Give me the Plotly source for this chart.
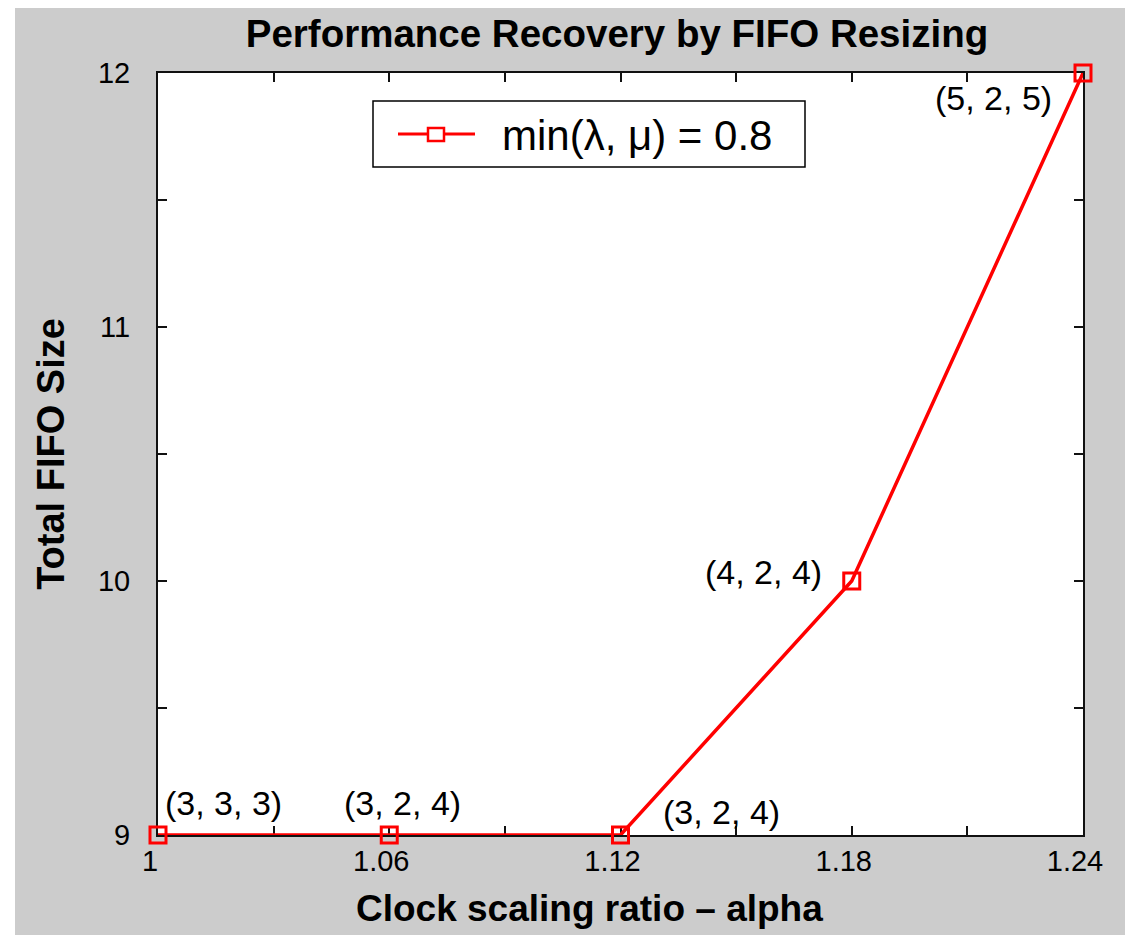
import plotly.graph_objects as go

# Clock scaling ratio (alpha) and resulting total FIFO size
alpha = [1.00, 1.06, 1.12, 1.18, 1.24]
fifo_size = [9, 9, 9, 10, 12]
fifo_config = ["(3, 3, 3)", "(3, 2, 4)", "(3, 2, 4)", "(4, 2, 4)", "(5, 2, 5)"]
series_name = "min(λ, μ) = 0.8"

x_tickvals = [1.00, 1.06, 1.12, 1.18, 1.24]
x_ticktext = ["1", "1.06", "1.12", "1.18", "1.24"]
y_tickvals = [9, 10, 11, 12]
y_ticktext = ["9", "10", "11", "12"]

# pixel offsets of each configuration label from its point
label_offsets = [(65, -32), (13, -32), (101, -23), (-88, -9), (-90, 25)]

W, H = 1125, 935
L, R, T, B = 158, 42, 73, 100
PW, PH = W - L - R, H - T - B
GRAY = "#cccccc"
RED = "#ff0000"
FONT = "Liberation Sans, Arial, Helvetica, sans-serif"


def px_x(p):
    return (p - L) / PW


def px_y(p):
    return (H - B - p) / PH


fig = go.Figure()
fig.add_trace(go.Scatter(
    x=alpha, y=fifo_size, mode="lines+markers", name=series_name,
    line=dict(color=RED, width=3.5),
    marker=dict(symbol="square-open", size=16, color=RED, line=dict(width=3, color=RED)),
    cliponaxis=False, showlegend=False,
))

for xv, yv, txt, (dx, dy) in zip(alpha, fifo_size, fifo_config, label_offsets):
    fig.add_annotation(x=xv, y=yv, text=txt, showarrow=False, xshift=dx, yshift=-dy,
                       xanchor="center", yanchor="middle",
                       font=dict(family=FONT, size=34, color="black"))

shapes = [
    # thin white margin on the top and left of the gray panel
    dict(type="rect", xref="paper", yref="paper", layer="below",
         x0=px_x(-5), x1=px_x(15), y0=px_y(H + 5), y1=px_y(-5),
         fillcolor="white", line=dict(width=0)),
    dict(type="rect", xref="paper", yref="paper", layer="below",
         x0=px_x(-5), x1=px_x(W + 5), y0=px_y(8), y1=px_y(-5),
         fillcolor="white", line=dict(width=0)),
    # legend box
    dict(type="rect", xref="paper", yref="paper",
         x0=px_x(373), x1=px_x(805), y0=px_y(167), y1=px_y(101),
         fillcolor="white", line=dict(color="black", width=1.5)),
    dict(type="line", xref="paper", yref="paper",
         x0=px_x(398), x1=px_x(475), y0=px_y(134), y1=px_y(134),
         line=dict(color=RED, width=3)),
    dict(type="rect", xref="paper", yref="paper",
         x0=px_x(428), x1=px_x(444), y0=px_y(141), y1=px_y(128),
         fillcolor="white", line=dict(color=RED, width=2.5)),
]
fig.add_annotation(xref="paper", yref="paper", x=px_x(500), y=px_y(136), text=series_name,
                   showarrow=False, xanchor="left", yanchor="middle",
                   font=dict(family=FONT, size=42, color="black"))

# x-axis title
fig.add_annotation(xref="paper", yref="paper", x=px_x(589), y=px_y(909),
                   text="<b>Clock scaling ratio – alpha</b>", showarrow=False,
                   xanchor="center", yanchor="middle",
                   font=dict(family=FONT, size=37, color="black"))

axis_common = dict(
    showline=True, linecolor="#111111", linewidth=2, mirror="ticks",
    ticks="inside", ticklen=9, tickwidth=1.5, tickcolor="#111111",
    showgrid=False, zeroline=False, layer="below traces",
    tickfont=dict(family=FONT, size=29, color="black"),
)

fig.update_layout(
    width=W, height=H,
    margin=dict(l=L, r=R, t=T, b=B, autoexpand=False),
    paper_bgcolor=GRAY, plot_bgcolor="white",
    shapes=shapes,
    title=dict(text="<b>Performance Recovery by FIFO Resizing</b>",
               xref="container", yref="container", x=617 / W, y=1 - 34 / H,
               xanchor="center", yanchor="middle",
               font=dict(family=FONT, size=38.5, color="black")),
    xaxis=dict(range=[1.0, 1.24], tickvals=x_tickvals, ticktext=x_ticktext,
               minor=dict(dtick=0.03, tick0=1.0, ticks="inside", ticklen=9,
                          tickwidth=1.5, tickcolor="#111111", showgrid=False),
               ticklabelstandoff=-1, ticklabelshift=-8,
               **axis_common),
    yaxis=dict(range=[9, 12], tickvals=y_tickvals, ticktext=y_ticktext,
               minor=dict(dtick=0.5, tick0=9, ticks="inside", ticklen=9,
                          tickwidth=1.5, tickcolor="#111111", showgrid=False),
               ticklabelstandoff=20,
               title=dict(text="<b>Total FIFO Size</b>", standoff=22,
                          font=dict(family=FONT, size=38, color="black")),
               **axis_common),
    showlegend=False,
)

fig.write_html("out.html")
